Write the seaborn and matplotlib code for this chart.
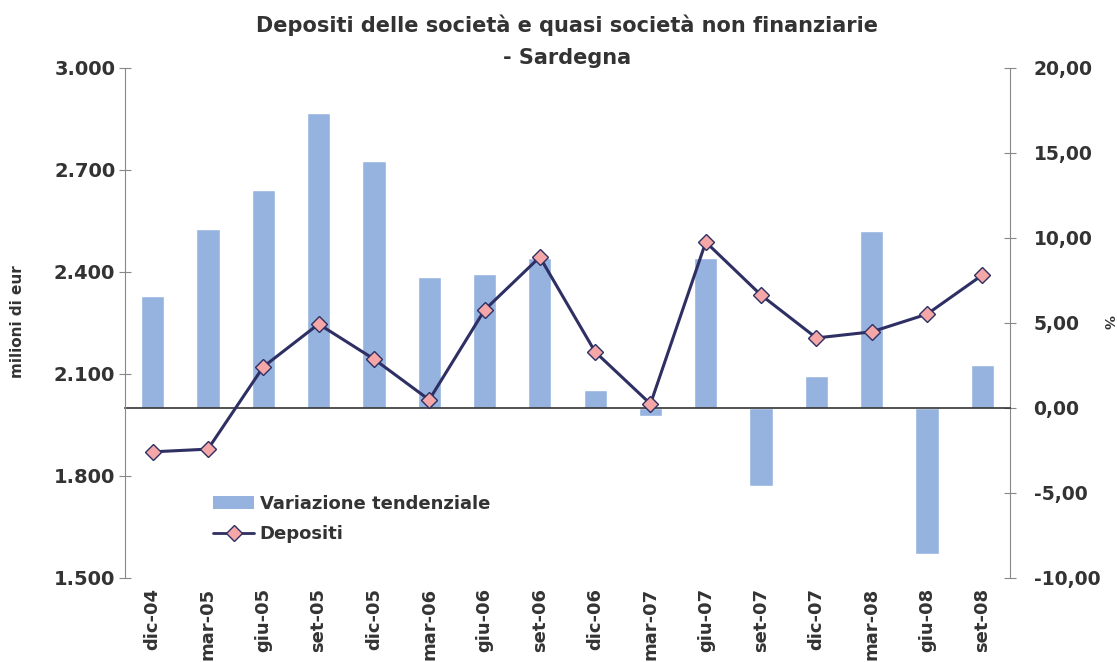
import matplotlib
matplotlib.use("Agg")
import matplotlib.pyplot as plt
from matplotlib.lines import Line2D
from matplotlib.patches import Patch
from matplotlib.ticker import FuncFormatter, FixedLocator
import seaborn as sns
import pandas as pd

sns.set_style("white")
plt.rcParams['font.family'] = ['DejaVu Sans']
plt.rcParams['font.weight'] = 'bold'

periodi = ["dic-04", "mar-05", "giu-05", "set-05", "dic-05", "mar-06", "giu-06", "set-06",
           "dic-06", "mar-07", "giu-07", "set-07", "dic-07", "mar-08", "giu-08", "set-08"]
depositi = [1871, 1879, 2121, 2247, 2144, 2024, 2288, 2444,
            2165, 2012, 2488, 2332, 2206, 2224, 2276, 2391]
variazione = [6.6, 10.5, 12.8, 17.35, 14.5, 7.7, 7.9, 8.8,
              1.06, -0.5, 8.8, -4.6, 1.9, 10.4, -8.6, 2.5]

df = pd.DataFrame({"periodo": periodi, "depositi": depositi, "variazione": variazione})

testo = "#333333"
bar_col = "#95B3DE"
line_col = "#2E2F63"
mark_col = "#F5A7A7"

fig = plt.figure(figsize=(11.17, 6.62), dpi=100)
ax = fig.add_axes([0.1119, 0.1269, 0.7923, 0.7704])
ax2 = ax.twinx()

# barre (asse destro, %)
sns.barplot(data=df, x="periodo", y="variazione", color=bar_col, width=0.42,
            saturation=1, ax=ax2, zorder=1)
# linea depositi (asse sinistro)
sns.lineplot(data=df, x="periodo", y="depositi", ax=ax, color=line_col, lw=2.2,
             marker="D", markersize=8, markerfacecolor=mark_col,
             markeredgecolor=line_col, markeredgewidth=1.0, sort=False)

ax.set_zorder(2)
ax.patch.set_visible(False)

ax.set_xlim(-0.5, len(periodi) - 0.5)
ax.set_ylim(1500, 3000)
ax.set_yticks([1500, 1800, 2100, 2400, 2700, 3000])
ax.yaxis.set_major_formatter(FuncFormatter(lambda v, p: f"{int(v):,}".replace(",", ".")))
ax2.set_ylim(-10, 20)
ax2.set_yticks([-10, -5, 0, 5, 10, 15, 20])
ax2.yaxis.set_major_formatter(FuncFormatter(lambda v, p: f"{v:.2f}".replace(".", ",")))

# asse x sullo zero dell'asse destro
ax2.xaxis.set_visible(True)
ax2.spines['bottom'].set_position(('data', 0))
ax2.spines['bottom'].set_color("#333333")
ax2.spines['bottom'].set_linewidth(1.2)
ax2.xaxis.set_minor_locator(FixedLocator([i + 0.5 for i in range(len(periodi) - 1)]))
ax2.tick_params(axis='x', which='major', length=0, labelbottom=False)
ax2.tick_params(axis='x', which='minor', length=9, direction='inout', color="#333333", width=1.2)
ax.tick_params(axis='x', which='both', length=0)
ax.tick_params(axis='x', which='major', labelsize=13, labelcolor=testo, pad=7, labelrotation=90)
ax.spines['bottom'].set_visible(False)

for a in (ax, ax2):
    a.spines['top'].set_visible(False)
ax.spines['right'].set_visible(False)
ax2.spines['left'].set_visible(False)
ax.spines['left'].set_color("#888888")
ax2.spines['right'].set_color("#888888")
ax.tick_params(axis='y', length=9, direction='inout', color="#888888", labelsize=14,
               labelcolor=testo, pad=2.5)
ax2.tick_params(axis='y', length=9, direction='inout', color="#888888", labelsize=13.5,
                labelcolor=testo, pad=12.5)
for lab in ax.get_xticklabels() + ax.get_yticklabels() + ax2.get_yticklabels():
    lab.set_fontweight('bold')

ax.set_xlabel("")
ax2.set_xlabel("")
ax.set_ylabel("")
ax2.set_ylabel("")
fig.text(18 / 1117, 1 - 322 / 662, "milioni di eur", rotation=90, ha='center', va='center',
         fontsize=11, color=testo, fontweight='bold')
fig.text(1108 / 1117, 1 - 322 / 662, "%", rotation=270, ha='center', va='center',
         fontsize=10, color=testo, fontweight='bold')

fig.text(567 / 1117, 1 - 41 / 662,
         "Depositi delle società e quasi società non finanziarie\n- Sardegna",
         ha='center', va='center', fontsize=15, fontweight='bold', color=testo,
         linespacing=1.72)

handles = [Patch(facecolor=bar_col, edgecolor='none'),
           Line2D([], [], color=line_col, lw=2, marker="D", markersize=8,
                  markerfacecolor=mark_col, markeredgecolor=line_col)]
leg = ax.legend(handles, ["Variazione tendenziale", "Depositi"], loc='upper left',
                bbox_to_anchor=(0.081, 0.195), frameon=False,
                handlelength=2.3, handletextpad=0.3, labelspacing=0.67,
                prop={'weight': 'bold', 'size': 13})
for t in leg.get_texts():
    t.set_color(testo)

fig.savefig("out.png", dpi=100)
